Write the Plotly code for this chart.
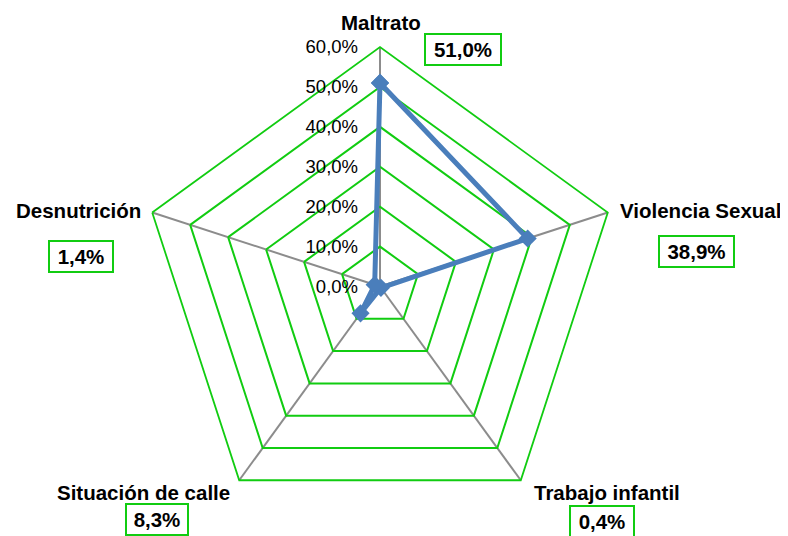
import plotly.graph_objects as go

# Datos
categorias = ["Maltrato", "Violencia Sexual", "Trabajo infantil", "Situación de calle", "Desnutrición"]
valores = [51.0, 38.9, 0.4, 8.3, 1.4]
etiquetas = ["51,0%", "38,9%", "0,4%", "8,3%", "1,4%"]
ticks_r = [0, 10, 20, 30, 40, 50, 60]
ticks_txt = ["0,0%", "10,0%", "20,0%", "30,0%", "40,0%", "50,0%", "60,0%"]

W, H = 788, 536
OFF = 8  # margen del body de la página
VERDE = "#11CC11"
AZUL = "#4A7EBB"

fig = go.Figure()

# cerrar el polígono repitiendo el primer punto
fig.add_trace(go.Scatterpolar(
    r=valores + valores[:1],
    theta=categorias + categorias[:1],
    mode="lines+markers",
    line=dict(color=AZUL, width=5),
    marker=dict(symbol="diamond", size=14, color=AZUL),
    showlegend=False,
))

# posiciones de las etiquetas (px desde arriba-izquierda)
pos_cat = [(381, 22), (700, 210), (607, 492), (143, 492), (78, 210)]
pos_val = [(463, 49), (696, 251), (602, 521), (157, 519), (81, 256)]
ancho_caja = [70, 69, 58, 56, 58]


def px(x, y):
    return (x - OFF) / W, 1 - (y - OFF) / H


anns = []
for cat, txt, (cx, cy), (vx, vy), w in zip(categorias, etiquetas, pos_cat, pos_val, ancho_caja):
    ax, ay = px(cx, cy)
    anns.append(dict(
        x=ax, y=ay, xref="paper", yref="paper",
        text=f"<b>{cat}</b>", showarrow=False,
        font=dict(size=20.5, color="#000000"),
        xanchor="center", yanchor="middle",
    ))
    bx, by = px(vx, vy)
    anns.append(dict(
        x=bx, y=by, xref="paper", yref="paper",
        text=f"<b>{txt}</b>", showarrow=False,
        font=dict(size=20.5, color="#000000"),
        xanchor="center", yanchor="middle",
        width=w, height=25,
        bordercolor=VERDE, borderwidth=2, borderpad=2, bgcolor="white",
    ))

cx, cy, R = 380 - OFF, 286.5 - OFF, 239.5
fig.update_layout(
    width=W, height=H,
    margin=dict(l=0, r=0, t=0, b=0),
    paper_bgcolor="white",
    font=dict(family="Liberation Sans, Arial, sans-serif", color="#000000"),
    annotations=anns,
    polar=dict(
        domain=dict(x=[(cx - R) / W, (cx + R) / W], y=[1 - (cy + R) / H, 1 - (cy - R) / H]),
        bgcolor="white",
        gridshape="linear",
        radialaxis=dict(
            range=[0, 60],
            tickvals=ticks_r,
            ticktext=ticks_txt,
            angle=90,
            tickangle=90,
            side="counterclockwise",
            ticks="outside",
            ticklen=15,
            tickcolor="rgba(0,0,0,0)",
            showline=False,
            gridcolor=VERDE,
            gridwidth=1.8,
            tickfont=dict(size=18.5, color="#000000"),
        ),
        angularaxis=dict(
            rotation=90,
            direction="clockwise",
            showticklabels=False,
            ticks="",
            gridcolor="#8C8C8C",
            gridwidth=1.5,
            linecolor=VERDE,
            linewidth=1.8,
        ),
    ),
)

fig.write_html("out.html")
